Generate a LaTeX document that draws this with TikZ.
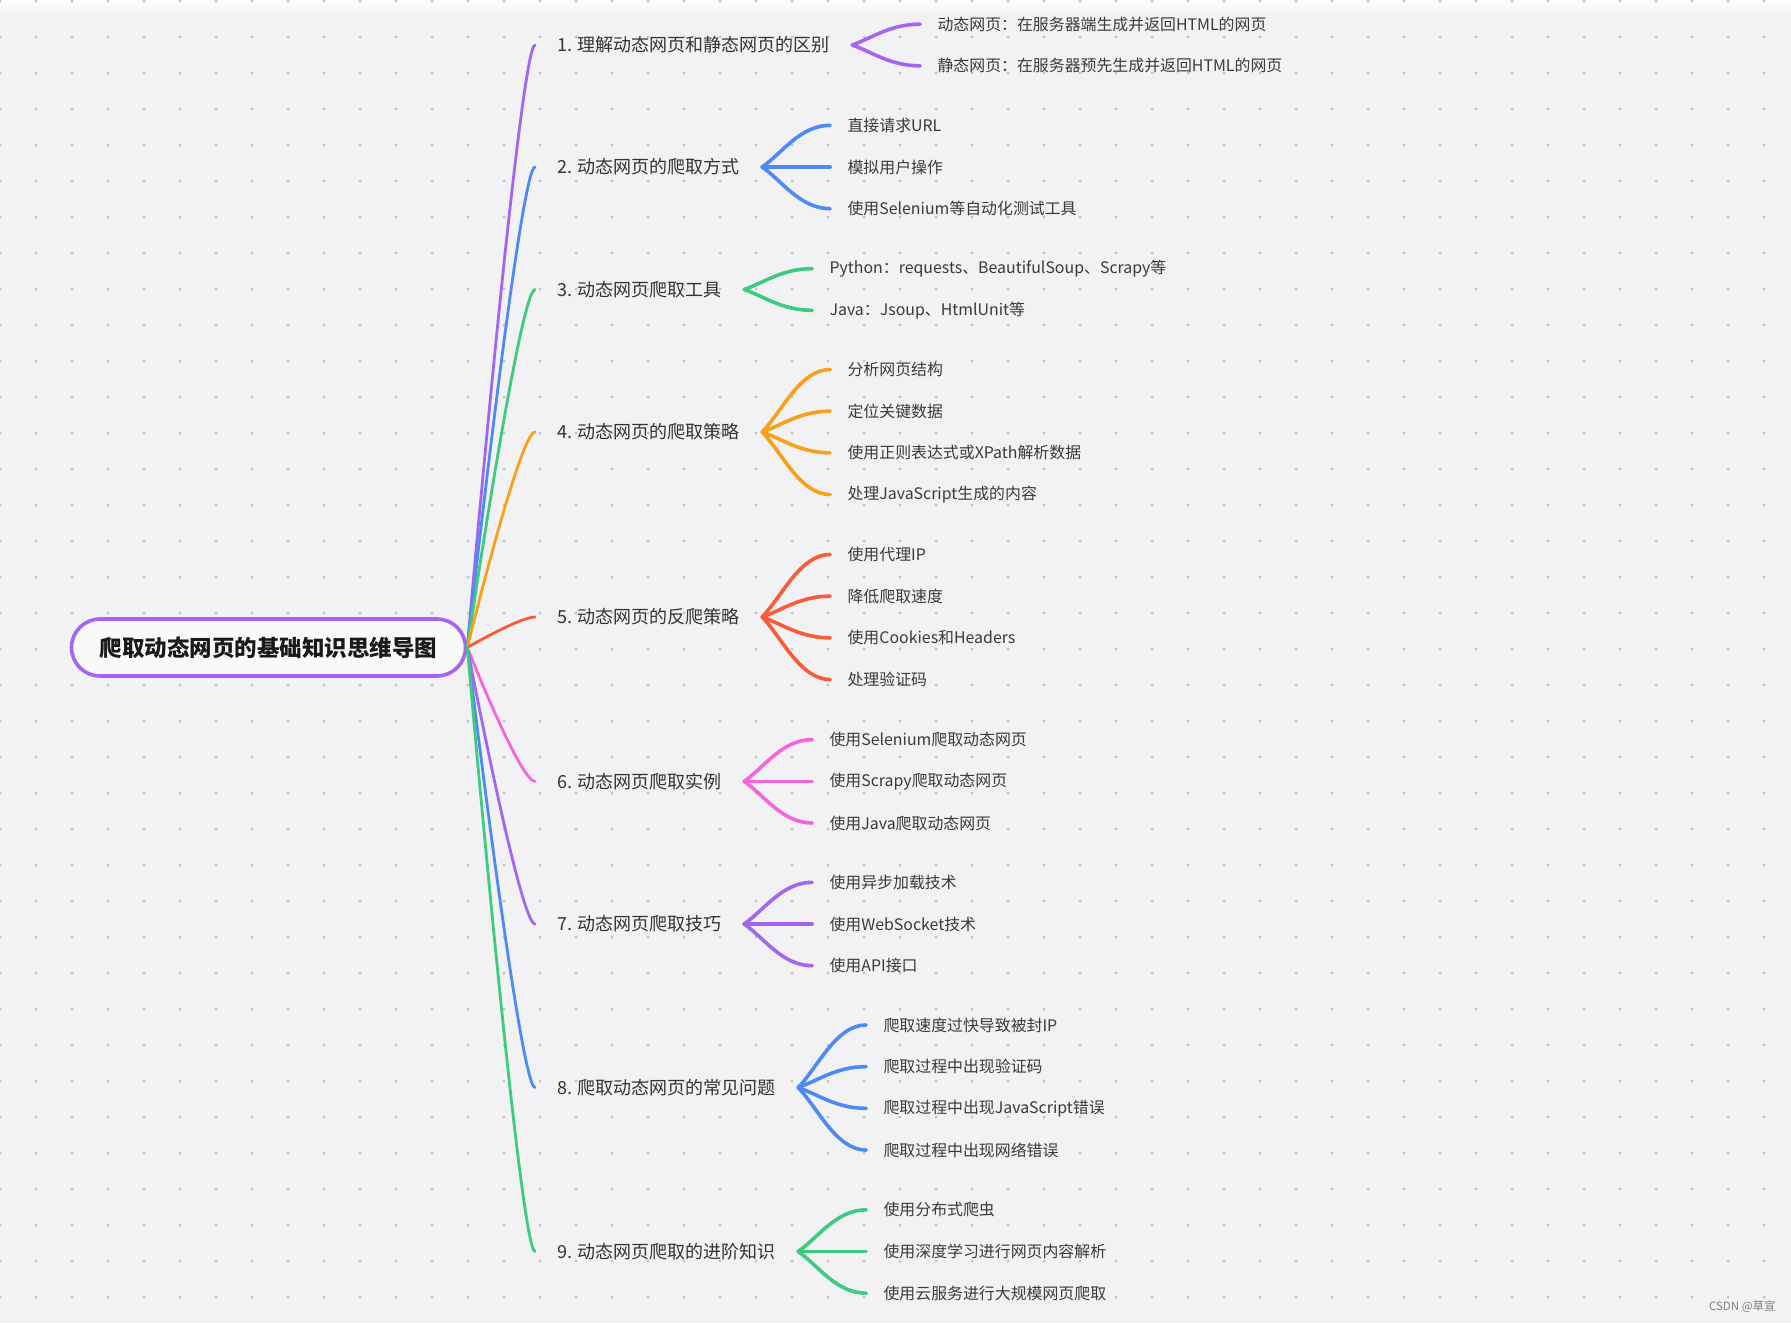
\documentclass[tikz,border=0pt]{standalone}
\usepackage{fontspec}
\setmainfont{Noto Sans CJK SC}
\usetikzlibrary{calc}
\definecolor{bgc}{HTML}{F2F2F5}
\definecolor{dotc}{HTML}{BFBFC5}
\definecolor{cpurple}{HTML}{A366F2}
\definecolor{cblue}{HTML}{4D8AF6}
\definecolor{cgreen}{HTML}{3CCB7F}
\definecolor{corange}{HTML}{F8A01A}
\definecolor{cred}{HTML}{FA5A38}
\definecolor{cpink}{HTML}{F564D8}
\definecolor{txta}{HTML}{333333}
\definecolor{txtb}{HTML}{3A3A3A}
\begin{document}
\begin{tikzpicture}[x=0.5pt,y=-0.5pt,
  rootbox/.style={draw=cpurple, line width=1.8pt, fill=white!55!bgc, rounded corners=14.25pt, minimum width=197pt, minimum height=28.5pt, inner sep=0pt, font=\fontsize{11.25}{13}\selectfont\bfseries, text=black!90},
  lone/.style={anchor=west, inner xsep=11pt, inner ysep=2pt, font=\fontsize{9}{11}\selectfont, text=txta},
  ltwo/.style={anchor=west, inner xsep=8.5pt, inner ysep=2pt, font=\fontsize{7.95}{10}\selectfont, text=txtb},
  trunk/.style={line width=1.4pt, line cap=round, to path={.. controls (\tikztostart) and +(-15,0) .. (\tikztotarget)}},
  twig/.style={line width=1.8pt, line cap=round, to path={let \p1=(\tikztostart), \p2=(\tikztotarget) in .. controls ({\x1+10pt},{\y1+(\y2-\y1)/3}) and ({\x2-15pt},\y2) .. (\p2)}},
]
\useasboundingbox (0,0) rectangle (1791,1323);
\fill[bgc] (0,0) rectangle (1791,1323);
\shade[top color=white!80!bgc, bottom color=bgc] (0,0) rectangle (1791,16);
\foreach \i in {0,...,49}{
  \foreach \j in {0,...,36}{
    \fill[dotc] (36*\i,1+36*\j) circle[radius=0.75pt];
  }
}

% root
\node[rootbox] (root) at (268.5,647.5) {爬取动态网页的基础知识思维导图};

% level 1
\node[lone] (n1) at (535,45) {1. 理解动态网页和静态网页的区别};
\node[lone] (n2) at (535,167) {2. 动态网页的爬取方式};
\node[lone] (n3) at (535,289.5) {3. 动态网页爬取工具};
\node[lone] (n4) at (535,432) {4. 动态网页的爬取策略};
\node[lone] (n5) at (535,617) {5. 动态网页的反爬策略};
\node[lone] (n6) at (535,781.3) {6. 动态网页爬取实例};
\node[lone] (n7) at (535,924) {7. 动态网页爬取技巧};
\node[lone] (n8) at (535,1087.5) {8. 爬取动态网页的常见问题};
\node[lone] (n9) at (535,1251.5) {9. 动态网页爬取的进阶知识};

% level 2
\node[ltwo] (c11) at ($(n1.east)+(68,-20.85)$) {动态网页：在服务器端生成并返回HTML的网页};
\node[ltwo] (c12) at ($(n1.east)+(68,20.85)$) {静态网页：在服务器预先生成并返回HTML的网页};

\node[ltwo] (c21) at ($(n2.east)+(68,-41.7)$) {直接请求URL};
\node[ltwo] (c22) at ($(n2.east)+(68,0)$) {模拟用户操作};
\node[ltwo] (c23) at ($(n2.east)+(68,41.7)$) {使用Selenium等自动化测试工具};

\node[ltwo] (c31) at ($(n3.east)+(68,-20.85)$) {Python：requests、BeautifulSoup、Scrapy等};
\node[ltwo] (c32) at ($(n3.east)+(68,20.85)$) {Java：Jsoup、HtmlUnit等};

\node[ltwo] (c41) at ($(n4.east)+(68,-62.55)$) {分析网页结构};
\node[ltwo] (c42) at ($(n4.east)+(68,-20.85)$) {定位关键数据};
\node[ltwo] (c43) at ($(n4.east)+(68,20.85)$) {使用正则表达式或XPath解析数据};
\node[ltwo] (c44) at ($(n4.east)+(68,62.55)$) {处理JavaScript生成的内容};

\node[ltwo] (c51) at ($(n5.east)+(68,-62.55)$) {使用代理IP};
\node[ltwo] (c52) at ($(n5.east)+(68,-20.85)$) {降低爬取速度};
\node[ltwo] (c53) at ($(n5.east)+(68,20.85)$) {使用Cookies和Headers};
\node[ltwo] (c54) at ($(n5.east)+(68,62.55)$) {处理验证码};

\node[ltwo] (c61) at ($(n6.east)+(68,-41.7)$) {使用Selenium爬取动态网页};
\node[ltwo] (c62) at ($(n6.east)+(68,0)$) {使用Scrapy爬取动态网页};
\node[ltwo] (c63) at ($(n6.east)+(68,41.7)$) {使用Java爬取动态网页};

\node[ltwo] (c71) at ($(n7.east)+(68,-41.7)$) {使用异步加载技术};
\node[ltwo] (c72) at ($(n7.east)+(68,0)$) {使用WebSocket技术};
\node[ltwo] (c73) at ($(n7.east)+(68,41.7)$) {使用API接口};

\node[ltwo] (c81) at ($(n8.east)+(68,-62.55)$) {爬取速度过快导致被封IP};
\node[ltwo] (c82) at ($(n8.east)+(68,-20.85)$) {爬取过程中出现验证码};
\node[ltwo] (c83) at ($(n8.east)+(68,20.85)$) {爬取过程中出现JavaScript错误};
\node[ltwo] (c84) at ($(n8.east)+(68,62.55)$) {爬取过程中出现网络错误};

\node[ltwo] (c91) at ($(n9.east)+(68,-41.7)$) {使用分布式爬虫};
\node[ltwo] (c92) at ($(n9.east)+(68,0)$) {使用深度学习进行网页内容解析};
\node[ltwo] (c93) at ($(n9.east)+(68,41.7)$) {使用云服务进行大规模网页爬取};

% trunks
\draw[trunk, cpurple] (root.east) to (n1.west);
\draw[trunk, cblue] (root.east) to (n2.west);
\draw[trunk, cgreen] (root.east) to (n3.west);
\draw[trunk, corange] (root.east) to (n4.west);
\draw[trunk, cred] (root.east) to (n5.west);
\draw[trunk, cpink] (root.east) to (n6.west);
\draw[trunk, cpurple] (root.east) to (n7.west);
\draw[trunk, cblue] (root.east) to (n8.west);
\draw[trunk, cgreen] (root.east) to (n9.west);

% twigs
\foreach \c in {c11,c12}{\draw[twig, cpurple] (n1.east) to (\c.west);}
\foreach \c in {c21,c22,c23}{\draw[twig, cblue] (n2.east) to (\c.west);}
\foreach \c in {c31,c32}{\draw[twig, cgreen] (n3.east) to (\c.west);}
\foreach \c in {c41,c42,c43,c44}{\draw[twig, corange] (n4.east) to (\c.west);}
\foreach \c in {c51,c52,c53,c54}{\draw[twig, cred] (n5.east) to (\c.west);}
\foreach \c in {c61,c62,c63}{\draw[twig, cpink] (n6.east) to (\c.west);}
\foreach \c in {c71,c72,c73}{\draw[twig, cpurple] (n7.east) to (\c.west);}
\foreach \c in {c81,c82,c83,c84}{\draw[twig, cblue] (n8.east) to (\c.west);}
\foreach \c in {c91,c92,c93}{\draw[twig, cgreen] (n9.east) to (\c.west);}

% watermark
\node[anchor=east, inner sep=0pt, text=black!50, font=\fontsize{5.75}{7}\selectfont] (wm) at (1776,1307) {CSDN @草宣};
\end{tikzpicture}
\end{document}
